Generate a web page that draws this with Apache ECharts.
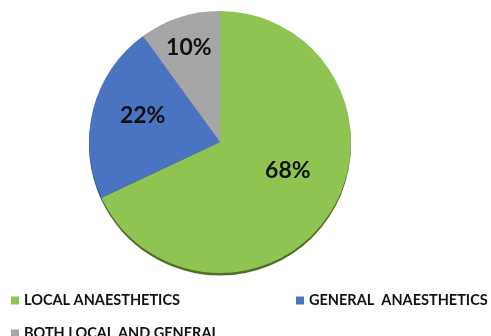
<!DOCTYPE html>
<html>
<head>
<meta charset="utf-8">
<script src="https://cdn.jsdelivr.net/npm/echarts@6/dist/echarts.min.js"></script>
<style>
  html, body { margin: 0; padding: 0; background: #ffffff; }
  #chart { width: 491px; height: 336px; }
</style>
</head>
<body>
<div id="chart"></div>
<script>
// Share of cases by type of anaesthesia (percent)
const categories = ['LOCAL ANAESTHETICS', 'GENERAL  ANAESTHETICS', 'BOTH LOCAL AND GENERAL'];
const shares = [68, 22, 10];
const sliceColors = ['#8fc452', '#4a73c2', '#a6a6a6'];
const rimColors = ['#4f6e28', '#2c4a80', '#6a6a6a'];
// small per-label nudges so the percentages sit where they read best
const labelNudge = [[10, -8], [-11, -9], [-10, -29]];

const chart = echarts.init(document.getElementById('chart'));

const pieData = categories.map((name, i) => ({
  name: name,
  value: shares[i],
  itemStyle: { color: sliceColors[i] }
}));
const rimData = categories.map((name, i) => ({
  name: name,
  value: shares[i],
  itemStyle: { color: rimColors[i] }
}));

const legendText = {
  fontFamily: 'Lato',
  fontWeight: 'bold',
  fontSize: 14.5,
  color: '#111111'
};
function legendAt(name, left, top) {
  return {
    data: [name],
    left: left,
    top: top,
    icon: 'rect',
    itemWidth: 8,
    itemHeight: 8,
    itemGap: 6,
    padding: 0,
    textStyle: legendText
  };
}

chart.setOption({
  animation: false,
  backgroundColor: '#ffffff',
  legend: [
    legendAt(categories[0], 11, 293),
    legendAt(categories[1], 296, 293),
    legendAt(categories[2], 11, 326)
  ],
  series: [
    {
      type: 'pie',
      name: 'share',
      z: 3,
      center: [220, 142],
      radius: 131,
      startAngle: 90,
      clockwise: true,
      data: pieData,
      itemStyle: { borderWidth: 0 },
      label: {
        show: true,
        position: 'inside',
        formatter: p => p.value + '%',
        fontFamily: 'Lato',
        fontWeight: 'bold',
        fontSize: 23,
        color: '#111111'
      },
      labelLine: { show: false },
      labelLayout: p => ({ dx: labelNudge[p.dataIndex][0], dy: labelNudge[p.dataIndex][1] }),
      emphasis: { disabled: true }
    },
    {
      // darker rim drawn just below the pie for the raised edge
      type: 'pie',
      name: 'rim',
      z: 1,
      silent: true,
      center: [220, 144.5],
      radius: 131,
      startAngle: 90,
      clockwise: true,
      data: rimData,
      itemStyle: { borderWidth: 0 },
      label: { show: false },
      labelLine: { show: false },
      emphasis: { disabled: true }
    }
  ]
});
</script>
</body>
</html>
